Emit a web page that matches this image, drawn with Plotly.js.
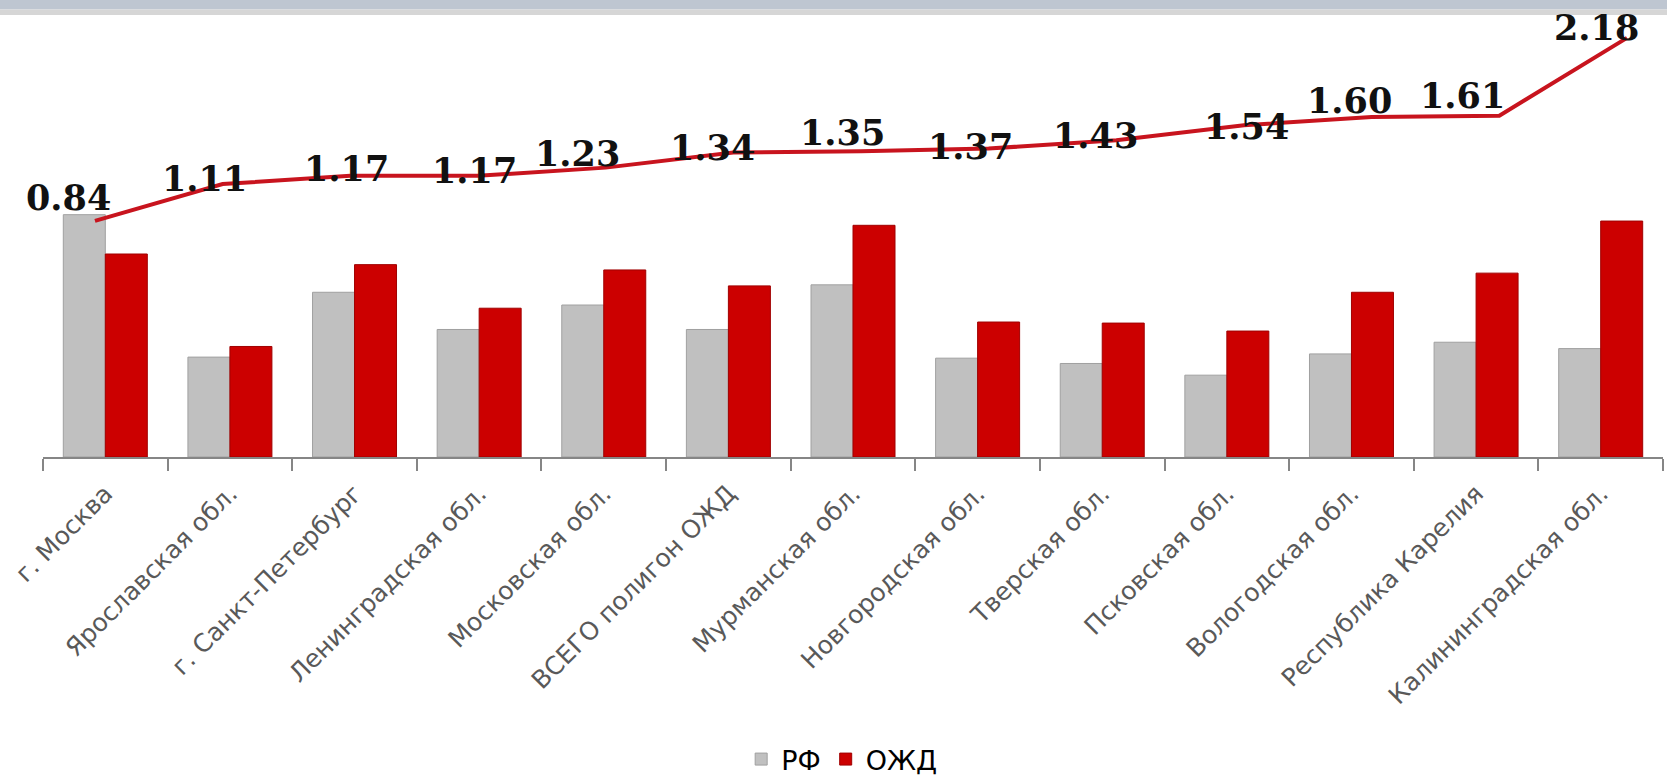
<!DOCTYPE html>
<html>
<head>
<meta charset="utf-8">
<script src="https://cdn.plot.ly/plotly-3.0.1.min.js"></script>
<style>
html,body{margin:0;padding:0;background:#fff;}
#chart{width:1667px;height:782px;}
</style>
</head>
<body>
<div id="chart"></div>
<script>
const categories = ["г. Москва","Ярославская обл.","г. Санкт-Петербург","Ленинградская обл.","Московская обл.","ВСЕГО полигон ОЖД","Мурманская обл.","Новгородская обл.","Тверская обл.","Псковская обл.","Вологодская обл.","Республика Карелия","Калининградская обл."];
const rfValues  = [228, 94, 155, 120, 143, 120, 162, 93, 88, 77, 97, 108, 102];
const ozdValues = [191, 104, 181, 140, 176, 161, 218, 127, 126, 118.5, 155, 173, 222];
const ratioValues = [0.84, 1.11, 1.17, 1.17, 1.23, 1.34, 1.35, 1.37, 1.43, 1.54, 1.60, 1.61, 2.18];
const seriesNames = ["РФ", "ОЖД"];

// label offsets (style only, px)
const labelShiftX = [-26,-18,-4,-3,-28,-21,-18,-18,-21,3,-22,-37,-31];
const labelShiftY = [23,6,7,5,14,5,19,2,5,-1,17,20,10];

const traces = [
  {type:'bar', name:seriesNames[0], x:categories, y:rfValues,
   marker:{color:'#C0C0C0', line:{color:'#A0A0A0', width:1}}, hoverinfo:'skip'},
  {type:'bar', name:seriesNames[1], x:categories, y:ozdValues,
   marker:{color:'#CC0000', line:{color:'#A00000', width:1}}, hoverinfo:'skip'},
  {type:'scatter', mode:'lines', x:categories, y:ratioValues, xaxis:'x2', yaxis:'y2',
   line:{color:'#C8141E', width:4}, showlegend:false, hoverinfo:'skip'}
];

const annotations = ratioValues.map((v,i)=>({
  xref:'x2', yref:'y2', x:categories[i], y:v, text:v.toFixed(2),
  showarrow:false, xshift:labelShiftX[i], yshift:labelShiftY[i],
  font:{family:'DejaVu Serif', size:35, color:'#111', weight:'bold'}
}));

const layout = {
  width:1667, height:782,
  margin:{l:43, r:4, t:0, b:325, autoexpand:false},
  paper_bgcolor:'#fff', plot_bgcolor:'rgba(0,0,0,0)',
  barmode:'group', bargap:0.326, bargroupgap:0,
  xaxis:{type:'category', range:[-0.5,12.5], showgrid:false, zeroline:false,
    showline:true, linecolor:'#868686', linewidth:2,
    ticks:'outside', ticklen:12, tickwidth:2, tickcolor:'#868686', tickson:'boundaries',
    tickangle:-45, ticklabelstandoff:10,
    tickfont:{family:'DejaVu Sans', size:25, color:'#595959'}, automargin:false},
  yaxis:{range:[0,430], visible:false, showgrid:false, zeroline:false, fixedrange:true},
  xaxis2:{type:'category', overlaying:'x', range:[-0.407,12.282], visible:false},
  yaxis2:{overlaying:'y', range:[-0.888,2.457], visible:false},
  showlegend:true,
  legend:{orientation:'h', x:0.493, xanchor:'center', y:-0.662, yanchor:'middle',
    font:{family:'DejaVu Sans', size:27, color:'#000'}, itemwidth:30, traceorder:'normal'},
  annotations:annotations,
  shapes:[
    {type:'rect', xref:'paper', yref:'paper', x0:-0.05, x1:1.05, y0:1-9.5/457, y1:1, fillcolor:'#BEC6D1', line:{width:0}, layer:'below'},
    {type:'rect', xref:'paper', yref:'paper', x0:-0.05, x1:1.05, y0:1-15/457, y1:1-9.5/457, fillcolor:'#D6D6D6', line:{width:0}, layer:'below'}
  ]
};

Plotly.newPlot('chart', traces, layout, {staticPlot:true, displayModeBar:false});
</script>
</body>
</html>
